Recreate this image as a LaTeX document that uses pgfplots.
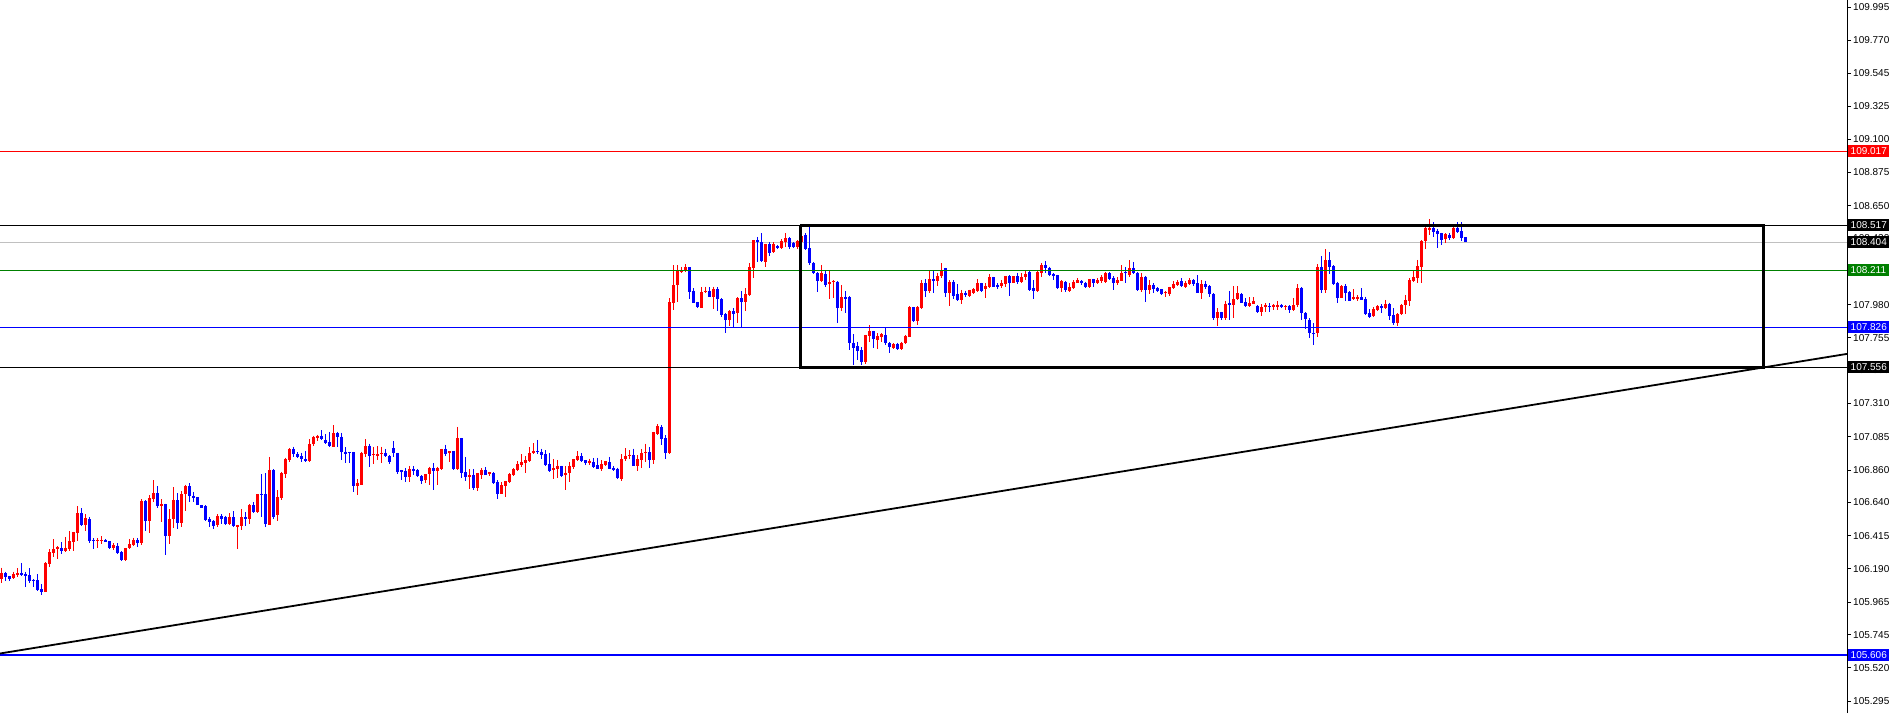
\documentclass[border=0pt]{standalone}
\usepackage{pgfplots}
\pgfplotsset{compat=1.18}
\usepackage{pgfplotstable}
\usepackage{fontspec}
\setmainfont{Liberation Sans}
\definecolor{mtred}{RGB}{255,0,0}
\definecolor{mtblue}{RGB}{0,0,255}
\definecolor{mtgreen}{RGB}{0,128,0}
\definecolor{bidgray}{RGB}{192,192,192}
\pgfplotstableread{
i o h l c
0 106.121 106.198 106.096 106.164
1 106.160 106.171 106.110 106.137
2 106.141 106.144 106.110 106.123
3 106.128 106.171 106.121 106.155
4 106.148 106.196 106.137 106.162
5 106.162 106.230 106.144 106.146
6 106.155 106.169 106.069 106.141
7 106.148 106.196 106.096 106.110
8 106.117 106.121 106.069 106.108
9 106.112 106.155 106.042 106.049
10 106.053 106.087 106.015 106.035
11 106.035 106.234 106.035 106.227
12 106.225 106.324 106.205 106.304
13 106.299 106.392 106.272 106.324
14 106.322 106.345 106.259 106.336
15 106.333 106.372 106.293 106.313
16 106.313 106.406 106.304 106.333
17 106.324 106.446 106.313 106.378
18 106.372 106.442 106.313 106.439
19 106.435 106.615 106.381 106.568
20 106.568 106.602 106.480 106.487
21 106.487 106.559 106.448 106.534
22 106.527 106.541 106.367 106.378
23 106.387 106.399 106.322 106.376
24 106.378 106.399 106.333 106.385
25 106.383 106.412 106.360 106.387
26 106.387 106.394 106.369 106.374
27 106.378 106.380 106.324 106.333
28 106.333 106.363 106.315 106.351
29 106.347 106.363 106.290 106.295
30 106.304 106.308 106.243 106.252
31 106.252 106.333 106.245 106.329
32 106.329 106.394 106.322 106.358
33 106.351 106.401 106.345 106.385
34 106.385 106.399 106.340 106.367
35 106.367 106.661 106.349 106.652
36 106.652 106.656 106.448 106.516
37 106.516 106.688 106.435 106.667
38 106.663 106.791 106.645 106.703
39 106.703 106.751 106.602 106.615
40 106.618 106.663 106.507 106.629
41 106.629 106.632 106.284 106.415
42 106.415 106.595 106.360 106.525
43 106.525 106.744 106.469 106.656
44 106.656 106.703 106.462 106.503
45 106.503 106.717 106.473 106.697
46 106.694 106.760 106.584 106.751
47 106.751 106.771 106.642 106.685
48 106.685 106.712 106.640 106.672
49 106.676 106.678 106.622 106.624
50 106.622 106.624 106.602 106.604
51 106.615 106.622 106.514 106.521
52 106.527 106.543 106.476 106.509
53 106.514 106.521 106.457 106.482
54 106.489 106.561 106.476 106.548
55 106.550 106.559 106.496 106.530
56 106.544 106.550 106.489 106.496
57 106.494 106.568 106.487 106.544
58 106.541 106.582 106.476 106.478
59 106.476 106.489 106.327 106.487
60 106.483 106.595 106.451 106.541
61 106.541 106.575 106.483 106.530
62 106.530 106.627 106.496 106.623
63 106.623 106.641 106.568 106.577
64 106.573 106.698 106.566 106.695
65 106.695 106.832 106.544 106.692
66 106.695 106.837 106.474 106.496
67 106.489 106.948 106.487 106.860
68 106.860 106.866 106.530 106.544
69 106.555 106.724 106.516 106.677
70 106.670 106.848 106.659 106.841
71 106.835 106.943 106.808 106.934
72 106.925 107.006 106.911 107.000
73 107.002 107.018 106.948 106.968
74 106.968 106.981 106.941 106.948
75 106.954 106.977 106.914 106.936
76 106.934 106.990 106.911 106.920
77 106.918 107.069 106.914 107.036
78 107.033 107.092 107.022 107.085
79 107.078 107.099 107.058 107.092
80 107.090 107.130 107.060 107.067
81 107.063 107.103 107.036 107.040
82 107.051 107.117 107.013 107.020
83 107.018 107.164 107.016 107.110
84 107.110 107.119 107.018 107.081
85 107.085 107.112 106.927 106.979
86 106.984 107.013 106.909 106.970
87 106.979 106.984 106.909 106.972
88 106.979 106.984 106.711 106.753
89 106.753 106.796 106.690 106.774
90 106.758 106.984 106.756 106.977
91 106.970 107.069 106.945 107.022
92 107.024 107.038 106.882 106.957
93 106.959 107.018 106.902 106.968
94 106.957 107.022 106.927 106.968
95 106.968 107.018 106.907 106.977
96 106.977 107.002 106.945 106.957
97 106.957 106.959 106.898 106.916
98 107.008 107.056 106.950 106.972
99 106.975 106.977 106.835 106.846
100 106.857 106.860 106.792 106.848
101 106.853 106.871 106.780 106.814
102 106.814 106.887 106.780 106.864
103 106.866 106.887 106.828 106.855
104 106.860 106.864 106.814 106.819
105 106.821 106.826 106.767 106.787
106 106.789 106.834 106.771 106.832
107 106.830 106.882 106.758 106.875
108 106.873 106.907 106.724 106.855
109 106.855 106.882 106.760 106.873
110 106.866 107.004 106.860 107.002
111 107.002 107.031 106.954 106.970
112 106.972 106.988 106.914 106.986
113 106.988 106.990 106.860 106.864
114 106.864 107.151 106.860 107.076
115 107.076 107.078 106.808 106.841
116 106.846 106.948 106.785 106.814
117 106.814 106.866 106.731 106.826
118 106.826 106.866 106.724 106.738
119 106.738 106.841 106.720 106.837
120 106.828 106.871 106.801 106.862
121 106.860 106.878 106.826 106.828
122 106.830 106.848 106.821 106.844
123 106.837 106.844 106.765 106.774
124 106.778 106.790 106.663 106.699
125 106.699 106.780 106.695 106.758
126 106.753 106.787 106.679 106.785
127 106.780 106.841 106.774 106.835
128 106.828 106.871 106.821 106.866
129 106.860 106.918 106.853 106.902
130 106.893 106.968 106.882 106.914
131 106.907 106.952 106.841 106.927
132 106.918 107.015 106.911 106.977
133 106.975 107.042 106.968 106.990
134 106.988 107.063 106.968 106.979
135 106.981 107.004 106.934 106.963
136 106.968 106.993 106.889 106.893
137 106.900 106.975 106.846 106.855
138 106.860 106.932 106.801 106.873
139 106.869 106.929 106.805 106.889
140 106.887 106.889 106.814 106.819
141 106.826 106.887 106.724 106.841
142 106.837 106.914 106.780 106.889
143 106.882 106.936 106.869 106.934
144 106.927 106.988 106.923 106.957
145 106.954 106.975 106.916 106.918
146 106.927 106.929 106.893 106.909
147 106.909 106.936 106.896 106.923
148 106.914 106.941 106.871 106.882
149 106.893 106.941 106.864 106.869
150 106.869 106.927 106.855 106.900
151 106.893 106.922 106.889 106.920
152 106.914 106.948 106.867 106.869
153 106.873 106.887 106.850 106.860
154 106.869 106.875 106.801 106.805
155 106.801 106.968 106.787 106.934
156 106.932 107.006 106.920 106.957
157 106.954 106.995 106.934 106.963
158 106.961 107.004 106.887 106.889
159 106.889 106.959 106.855 106.934
160 106.927 107.002 106.871 106.977
161 106.972 107.038 106.916 106.981
162 106.981 107.015 106.873 106.927
163 106.927 107.119 106.900 107.117
164 107.105 107.171 107.099 107.157
165 107.151 107.162 107.031 107.072
166 107.076 107.096 106.936 106.977
167 106.977 108.024 106.970 107.997
168 107.993 108.248 107.943 108.112
169 108.110 108.248 107.997 108.214
170 108.200 108.236 108.191 108.214
171 108.214 108.254 108.202 108.232
172 108.232 108.234 108.017 108.067
173 108.072 108.090 107.988 107.993
174 107.997 108.000 107.959 107.965
175 107.959 108.096 107.957 108.067
176 108.065 108.101 108.056 108.074
177 108.072 108.096 108.029 108.033
178 108.033 108.101 107.952 108.083
179 108.083 108.096 107.938 108.015
180 108.015 108.022 107.898 107.909
181 107.916 107.925 107.789 107.875
182 107.875 107.943 107.837 107.936
183 107.936 107.954 107.830 107.918
184 107.920 108.029 107.857 108.024
185 108.024 108.072 107.830 107.999
186 107.999 108.090 107.938 108.051
187 108.045 108.259 108.040 108.232
188 108.230 108.419 108.162 108.417
189 108.417 108.439 108.270 108.406
190 108.403 108.462 108.266 108.277
191 108.270 108.392 108.236 108.390
192 108.390 108.403 108.311 108.331
193 108.338 108.401 108.331 108.388
194 108.376 108.385 108.358 108.365
195 108.365 108.421 108.358 108.408
196 108.403 108.462 108.372 108.430
197 108.430 108.439 108.358 108.370
198 108.399 108.401 108.365 108.370
199 108.367 108.417 108.354 108.408
200 108.406 108.462 108.399 108.444
201 108.451 108.462 108.349 108.356
202 108.360 108.507 108.248 108.259
203 108.259 108.270 108.187 108.191
204 108.191 108.202 108.067 108.142
205 108.139 108.248 108.135 108.191
206 108.187 108.209 108.101 108.112
207 108.119 108.207 108.017 108.133
208 108.133 108.146 108.022 108.139
209 108.135 108.139 107.857 107.959
210 107.959 108.112 107.938 108.029
211 108.029 108.072 107.920 108.017
212 108.029 108.038 107.672 107.717
213 107.717 107.780 107.570 107.688
214 107.699 107.729 107.604 107.668
215 107.672 107.690 107.570 107.593
216 107.593 107.776 107.577 107.774
217 107.769 107.841 107.728 107.801
218 107.801 107.803 107.688 107.744
219 107.740 107.785 107.677 107.767
220 107.762 107.787 107.728 107.780
221 107.774 107.826 107.706 107.717
222 107.722 107.728 107.654 107.690
223 107.688 107.717 107.677 107.712
224 107.713 107.722 107.672 107.681
225 107.681 107.729 107.672 107.722
226 107.717 107.774 107.713 107.769
227 107.763 107.970 107.758 107.961
228 107.961 107.966 107.864 107.871
229 107.871 107.970 107.842 107.966
230 107.955 108.146 107.948 108.124
231 108.124 108.153 108.033 108.074
232 108.074 108.214 108.061 108.153
233 108.153 108.214 108.061 108.142
234 108.142 108.196 108.106 108.173
235 108.173 108.259 108.158 108.214
236 108.225 108.230 108.033 108.056
237 108.056 108.146 107.970 108.135
238 108.135 108.146 108.018 108.038
239 108.052 108.119 108.006 108.011
240 108.011 108.079 107.984 108.056
241 108.056 108.074 108.029 108.043
242 108.040 108.081 108.029 108.079
243 108.056 108.090 108.052 108.083
244 108.074 108.151 108.067 108.124
245 108.124 108.128 108.067 108.074
246 108.083 108.124 108.027 108.106
247 108.097 108.187 108.090 108.164
248 108.164 108.169 108.097 108.101
249 108.115 108.124 108.085 108.097
250 108.108 108.146 108.092 108.124
251 108.119 108.175 108.097 108.173
252 108.173 108.180 108.040 108.124
253 108.128 108.175 108.124 108.173
254 108.173 108.196 108.117 108.133
255 108.135 108.191 108.128 108.169
256 108.164 108.210 108.146 108.187
257 108.203 108.205 108.074 108.079
258 108.090 108.146 108.015 108.074
259 108.074 108.214 108.067 108.203
260 108.196 108.259 108.164 108.248
261 108.248 108.275 108.191 108.225
262 108.230 108.237 108.173 108.180
263 108.187 108.191 108.146 108.173
264 108.180 108.182 108.085 108.090
265 108.090 108.146 108.067 108.140
266 108.135 108.140 108.067 108.079
267 108.074 108.128 108.067 108.097
268 108.090 108.146 108.088 108.135
269 108.128 108.158 108.124 108.146
270 108.142 108.146 108.112 108.124
271 108.128 108.135 108.090 108.097
272 108.097 108.153 108.090 108.151
273 108.151 108.155 108.097 108.128
274 108.128 108.158 108.119 108.146
275 108.140 108.180 108.128 108.169
276 108.135 108.203 108.124 108.191
277 108.191 108.203 108.146 108.151
278 108.162 108.173 108.079 108.128
279 108.124 108.164 108.112 108.146
280 108.142 108.248 108.139 108.196
281 108.200 108.232 108.128 108.191
282 108.180 108.281 108.169 108.225
283 108.225 108.270 108.184 108.191
284 108.196 108.202 108.072 108.078
285 108.078 108.196 108.067 108.169
286 108.169 108.175 107.999 108.078
287 108.078 108.146 108.051 108.112
288 108.112 108.124 108.056 108.083
289 108.092 108.096 108.067 108.074
290 108.083 108.087 108.045 108.049
291 108.056 108.072 108.033 108.065
292 108.051 108.101 108.038 108.096
293 108.094 108.137 108.087 108.121
294 108.112 108.146 108.105 108.135
295 108.137 108.157 108.101 108.108
296 108.101 108.142 108.094 108.128
297 108.119 108.157 108.112 108.146
298 108.146 108.153 108.105 108.119
299 108.124 108.180 108.056 108.060
300 108.060 108.146 108.015 108.119
301 108.117 108.142 108.083 108.101
302 108.105 108.110 108.029 108.049
303 108.051 108.056 107.875 107.886
304 107.886 107.954 107.835 107.927
305 107.927 107.932 107.875 107.886
306 107.886 108.006 107.875 107.984
307 107.988 108.072 107.875 107.977
308 107.977 108.105 107.891 108.017
309 108.015 108.105 108.011 108.056
310 108.051 108.056 107.988 107.993
311 107.997 108.022 107.965 107.972
312 107.972 108.029 107.965 107.993
313 107.986 108.029 107.981 108.006
314 107.970 107.975 107.925 107.929
315 107.932 107.981 107.902 107.965
316 107.965 107.988 107.932 107.977
317 107.970 107.988 107.927 107.965
318 107.963 107.984 107.943 107.975
319 107.965 108.004 107.943 107.977
320 107.977 107.981 107.954 107.961
321 107.963 107.977 107.943 107.970
322 107.970 107.977 107.925 107.943
323 107.943 108.022 107.938 107.977
324 107.977 108.119 107.965 108.090
325 108.094 108.096 107.875 107.920
326 107.925 107.927 107.812 107.880
327 107.875 107.886 107.751 107.785
328 107.789 107.853 107.706 107.785
329 107.785 108.254 107.758 108.236
330 108.232 108.309 108.060 108.078
331 108.078 108.354 108.060 108.281
332 108.281 108.336 108.187 108.236
333 108.241 108.248 108.112 108.119
334 108.128 108.135 107.993 108.026
335 108.026 108.112 108.022 108.105
336 108.105 108.119 108.006 108.060
337 108.067 108.069 108.004 108.006
338 108.017 108.083 108.011 108.029
339 108.017 108.045 108.006 108.029
340 108.029 108.090 108.009 108.011
341 108.018 108.033 107.909 107.916
342 107.921 107.948 107.891 107.898
343 107.903 107.961 107.898 107.950
344 107.943 107.977 107.939 107.970
345 107.970 107.982 107.925 107.954
346 107.954 108.011 107.948 107.982
347 107.982 107.993 107.875 107.905
348 107.909 107.954 107.842 107.853
349 107.853 107.921 107.835 107.916
350 107.916 107.984 107.909 107.975
351 107.975 108.045 107.916 108.011
352 108.006 108.158 107.970 108.146
353 108.142 108.210 108.135 108.164
354 108.160 108.282 108.124 108.241
355 108.237 108.417 108.124 108.410
356 108.410 108.507 108.356 108.501
357 108.485 108.559 108.451 108.501
358 108.501 108.537 108.435 108.474
359 108.478 108.492 108.365 108.460
360 108.462 108.467 108.383 108.417
361 108.424 108.462 108.399 108.458
362 108.453 108.465 108.417 108.433
363 108.428 108.507 108.422 108.501
364 108.501 108.537 108.462 108.474
365 108.478 108.537 108.413 108.433
366 108.435 108.437 108.402 108.404
}\candles
\begin{document}
\begin{tikzpicture}
\begin{axis}[
  x=4pt, y=147.66pt,
  xmin=-0.25, xmax=461.5,
  ymin=105.214, ymax=110.042,
  axis x line=none,
  axis y line*=right,
  axis line style={line width=0.9pt, black},
  tick align=outside,
  major tick length=4pt,
  every tick/.style={black, line width=0.9pt},
  ytick={105.295,105.520,105.745,105.965,106.190,106.415,106.640,106.860,107.085,107.310,107.535,107.755,107.980,108.205,108.430,108.650,108.875,109.100,109.325,109.545,109.770,109.995},
  yticklabels={105.295,105.520,105.745,105.965,106.190,106.415,106.640,106.860,107.085,107.310,107.535,107.755,107.980,108.205,108.430,108.650,108.875,109.100,109.325,109.545,109.770,109.995},
  yticklabel style={font=\fontsize{10}{12}\selectfont, anchor=west, inner xsep=2pt},
  clip mode=individual,
  candle/.style={draw=none, mark=none, error bars/y dir=minus, error bars/y explicit, error bars/error mark=none},
]
\coordinate (SW) at (rel axis cs:0,0);
% bid line
\addplot[bidgray, line width=0.9pt] coordinates {(-0.25,108.404) (461.5,108.404)};
% wicks
\addplot[candle, restrict expr to domain={\thisrow{c}-\thisrow{o}}{0:10},
  error bars/error bar style={draw=mtred, line width=1pt, solid}]
  table[x=i, y=h, y error minus expr=\thisrow{h}-\thisrow{l}] {\candles};
\addplot[candle, restrict expr to domain={\thisrow{o}-\thisrow{c}}{0.0005:10},
  error bars/error bar style={draw=mtblue, line width=1pt, solid}]
  table[x=i, y=h, y error minus expr=\thisrow{h}-\thisrow{l}] {\candles};
% bodies
\addplot[candle, restrict expr to domain={\thisrow{c}-\thisrow{o}}{0:10},
  error bars/error bar style={draw=mtred, line width=3pt, solid}]
  table[x=i, y=c, y error minus expr=\thisrow{c}-\thisrow{o}] {\candles};
\addplot[candle, restrict expr to domain={\thisrow{o}-\thisrow{c}}{0.0005:10},
  error bars/error bar style={draw=mtblue, line width=3pt, solid}]
  table[x=i, y=o, y error minus expr=\thisrow{o}-\thisrow{c}] {\candles};
% levels
\addplot[mtred, line width=1.6pt] coordinates {(-0.25,109.017) (461.5,109.017)};
\addplot[black, line width=1.3pt] coordinates {(-0.25,108.517) (461.5,108.517)};
\addplot[mtgreen, line width=1.6pt] coordinates {(-0.25,108.211) (461.5,108.211)};
\addplot[mtblue, line width=1.6pt] coordinates {(-0.25,107.826) (461.5,107.826)};
\addplot[black, line width=1.3pt] coordinates {(-0.25,107.556) (461.5,107.556)};
\addplot[mtblue, line width=1.6pt] coordinates {(-0.25,105.606) (461.5,105.606)};
% range box
\addplot[black, line width=3pt] coordinates {(199.75,108.517) (440.5,108.517) (440.5,107.556) (199.75,107.556) (199.75,108.517)};
% trend line
\addplot[black, line width=1.8pt] coordinates {(-0.25,105.617) (461.5,107.646)};
% price labels
\tikzset{plab/.style={anchor=west, text=white, font=\fontsize{10}{12}\selectfont, inner xsep=2.5pt, inner ysep=0pt, minimum height=12pt, xshift=1pt}}
\node[plab, fill=mtred] at (axis cs:461.5,109.017) {109.017};
\node[plab, fill=black] at (axis cs:461.5,108.517) {108.517};
\node[plab, fill=black] at (axis cs:461.5,108.404) {108.404};
\node[plab, fill=mtgreen] at (axis cs:461.5,108.211) {108.211};
\node[plab, fill=mtblue] at (axis cs:461.5,107.826) {107.826};
\node[plab, fill=black] at (axis cs:461.5,107.556) {107.556};
\node[plab, fill=mtblue] at (axis cs:461.5,105.606) {105.606};
\end{axis}
\pgfresetboundingbox
\path[use as bounding box] (SW) rectangle ++(1894pt,713pt);
\end{tikzpicture}
\end{document}
